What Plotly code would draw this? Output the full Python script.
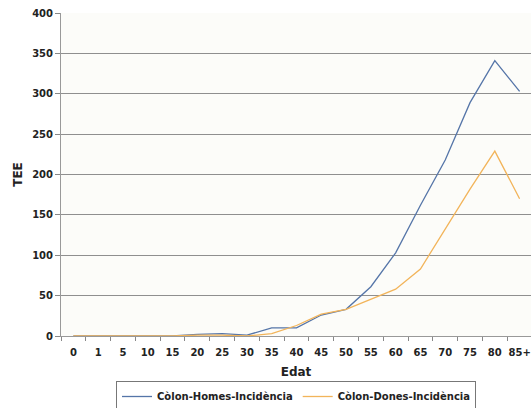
import plotly.graph_objects as go

categories = ["0", "1", "5", "10", "15", "20", "25", "30", "35", "40", "45",
              "50", "55", "60", "65", "70", "75", "80", "85+"]
homes = [0, 0, 0, 0, 0, 2, 3, 1, 10, 10, 26, 33, 61, 103, 162, 218, 289, 341, 303]
dones = [0, 0, 0, 0, 0, 1, 1, 0, 3, 13, 27, 33, 46, 58, 83, 133, 182, 229, 170]
yticks = [0, 50, 100, 150, 200, 250, 300, 350, 400]

font_fam = "DejaVu Sans, Verdana, sans-serif"
txt = "#222"

fig = go.Figure()
fig.add_trace(go.Scatter(x=categories, y=homes, mode="lines",
                         name="Còlon-Homes-Incidència",
                         line=dict(color="#5575a8", width=1.3)))
fig.add_trace(go.Scatter(x=categories, y=dones, mode="lines",
                         name="Còlon-Dones-Incidència",
                         line=dict(color="#f2b45a", width=1.3)))

fig.update_layout(
    width=531, height=408,
    margin=dict(l=61, r=0, t=13, b=72, autoexpand=False),
    paper_bgcolor="white",
    plot_bgcolor="#fcfcf9",
    font=dict(family=font_fam, size=10, color=txt),
    showlegend=True,
    legend=dict(orientation="h", x=0.5, xanchor="center", xref="paper",
                y=(408 - 381) / 408, yanchor="top", yref="container",
                bordercolor="#777", borderwidth=1, bgcolor="white",
                font=dict(size=10, color=txt, family=font_fam, weight="bold"),
                itemwidth=30, tracegroupgap=0),
    xaxis=dict(
        type="category", range=[-0.5, 18.46], automargin=False, tickangle=0,
        showgrid=False, showline=True, linecolor="#999", linewidth=1,
        ticks="outside", tickson="boundaries", ticklen=4, tickcolor="#888",
        ticklabelstandoff=7,
        tickfont=dict(size=10, family=font_fam, weight="bold", color=txt),
        title=dict(text="Edat", font=dict(size=12, family=font_fam, weight="bold", color=txt),
                   standoff=10),
    ),
    yaxis=dict(
        range=[0, 400], tickvals=yticks, automargin=False,
        showgrid=True, gridcolor="#8f8f8f", gridwidth=1,
        showline=True, linecolor="#999", linewidth=1,
        ticks="outside", ticklen=5, tickcolor="#888",
        zeroline=False,
        tickfont=dict(size=10, family=font_fam, weight="bold", color=txt),
        title=dict(text="TEE", font=dict(size=12, family=font_fam, weight="bold", color=txt),
                   standoff=6),
    ),
)

fig.write_html(
    "out.html",
    config={"displayModeBar": False},
    post_script="document.body.style.margin='0';document.body.style.overflow='hidden';",
)
